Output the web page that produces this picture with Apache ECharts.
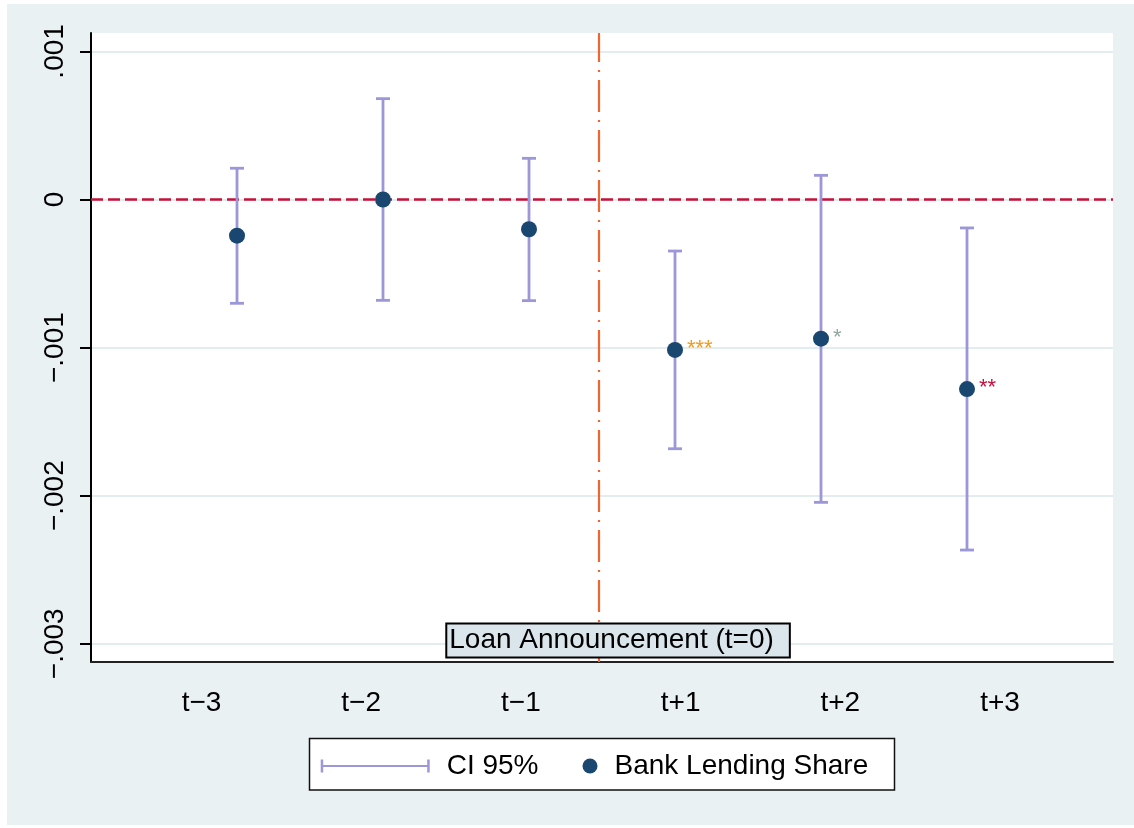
<!DOCTYPE html>
<html>
<head>
<meta charset="utf-8">
<style>
  html, body { margin: 0; padding: 0; background: #ffffff; }
  #chart { width: 1134px; height: 828px; }
</style>
<script src="https://cdn.jsdelivr.net/npm/echarts@6/dist/echarts.min.js"></script>
</head>
<body>
<div id="chart"></div>
<script>
// ---- data ----
const categories = ['t\u22123', 't\u22122', 't\u22121', 't+1', 't+2', 't+3'];
const positions = [1, 2, 3, 4, 5, 6];
const coef   = [-0.000244, 0.000000, -0.000201, -0.001016, -0.000940, -0.001280];
const ciLow  = [-0.000701, -0.000681, -0.000683, -0.001683, -0.002045, -0.002367];
const ciHigh = [ 0.000211,  0.000681,  0.000278, -0.000348,  0.000163, -0.000192];
const stars  = ['', '', '', '***', '*', '**'];
const eventPos = 3.48;
const eventLabel = 'Loan Announcement (t=0)';
const yTicks = [-0.003, -0.002, -0.001, 0, 0.001];
const yTickLabels = ['\u2212.003', '\u2212.002', '\u2212.001', '0', '.001'];
const legendNames = ['CI 95%', 'Bank Lending Share'];

// ---- styles ----
const FONT = '"Liberation Sans", Arial, Helvetica, sans-serif';
const ciColor = '#9b97d9';
const dotColor = '#1a476f';
const starColors = { '***': '#f29b20', '**': '#c8103a', '*': '#8fa89a' };
const yMin = -0.003123, yMax = 0.0011242;

const chart = echarts.init(document.getElementById('chart'), null, { renderer: 'canvas' });

const ciData = positions.map((p, i) => [p, ciLow[i], ciHigh[i]]);
const pointData = positions.map((p, i) => ({
  value: [p, coef[i]],
  label: { color: starColors[stars[i]] || '#000' }
}));

const option = {
  backgroundColor: '#ffffff',
  animation: false,
  textStyle: { fontFamily: FONT },
  graphic: [
    { type: 'rect', z: -100, shape: { x: 7, y: 4, width: 1127, height: 821 },
      style: { fill: '#eaf1f3' } },
    { type: 'rect', z: 1, shape: { x: 309.5, y: 738.5, width: 585, height: 51.5 },
      style: { fill: '#ffffff', stroke: '#111111', lineWidth: 1.5 } }
  ],
  grid: { left: 91, right: 21, top: 33, bottom: 166, show: true,
          backgroundColor: '#ffffff', borderWidth: 0, containLabel: false },
  xAxis: [
    { type: 'value', min: 0, max: 7, position: 'bottom',
      axisLine: { show: true, onZero: false, lineStyle: { color: '#222', width: 2 } },
      axisTick: { show: false }, axisLabel: { show: false }, splitLine: { show: false } },
    { type: 'value', min: 0.3081, max: 6.7076, position: 'bottom',
      axisLine: { show: false }, axisTick: { show: false }, splitLine: { show: false },
      axisLabel: { show: true, customValues: positions, margin: 27,
        fontSize: 28, color: '#000', fontFamily: FONT,
        formatter: v => categories[positions.indexOf(Math.round(v))] || '' } }
  ],
  yAxis: {
    type: 'value', min: yMin, max: yMax,
    axisLine: { show: true, lineStyle: { color: '#000', width: 2 } },
    axisTick: { show: true, customValues: yTicks, length: 11, lineStyle: { color: '#000', width: 2 } },
    axisLabel: { show: true, customValues: yTicks, rotate: 90, margin: 22,
      fontSize: 28, color: '#000', fontFamily: FONT,
      formatter: v => { const i = yTicks.findIndex(t => Math.abs(t - v) < 1e-9); return i >= 0 ? yTickLabels[i] : ''; } },
    splitLine: { show: true, lineStyle: { color: '#e3ecef', width: 2 } }
  },
  legend: [
    { left: 320.7, top: 752, padding: 0, itemWidth: 109, itemHeight: 13, selectedMode: false,
      data: [{ name: legendNames[0], icon: 'path://M0,0H2.5V13H0Z M2,5.5H107V7.5H2Z M106.5,0H109V13H106.5Z',
               itemStyle: { color: ciColor } }],
      textStyle: { fontSize: 28, color: '#000', fontFamily: FONT, padding: [0, 0, 0, 12] } },
    { left: 582.5, top: 752, padding: 0, itemWidth: 15, itemHeight: 15, selectedMode: false,
      data: [{ name: legendNames[1], icon: 'circle', itemStyle: { color: dotColor } }],
      textStyle: { fontSize: 28, color: '#000', fontFamily: FONT, padding: [0, 0, 0, 12] } }
  ],
  series: [
    { name: legendNames[0], type: 'custom', xAxisIndex: 0,
      itemStyle: { color: ciColor },
      data: ciData, z: 3,
      renderItem: (params, api) => {
        const x = api.value(0);
        const top = api.coord([x, api.value(2)]);
        const bot = api.coord([x, api.value(1)]);
        const w = 7;
        const st = { stroke: ciColor, lineWidth: 2.8 };
        return { type: 'group', children: [
          { type: 'line', shape: { x1: top[0], y1: top[1], x2: bot[0], y2: bot[1] }, style: st },
          { type: 'line', shape: { x1: top[0] - w, y1: top[1], x2: top[0] + w, y2: top[1] }, style: st },
          { type: 'line', shape: { x1: bot[0] - w, y1: bot[1], x2: bot[0] + w, y2: bot[1] }, style: st }
        ] };
      },
      markLine: {
        silent: true, symbol: 'none', z: 2,
        label: { show: false },
        data: [
          { yAxis: 0, lineStyle: { color: '#c8103a', width: 2.6, type: [12, 5] } },
          { xAxis: eventPos, lineStyle: { color: '#f26430', width: 2.2, type: [32, 8, 2, 8] } }
        ]
      },
      markPoint: {
        silent: true, symbol: 'rect', symbolSize: 1, itemStyle: { color: 'rgba(0,0,0,0)' },
        data: [{ coord: [eventPos + 0.13, yMin], value: eventLabel,
          label: { show: true, position: 'top', distance: 5, formatter: eventLabel,
            fontSize: 28, color: '#000', fontFamily: FONT, lineHeight: 30,
            backgroundColor: '#dae6ec', borderColor: '#000', borderWidth: 2,
            padding: [1, 15, 1, 2] } }]
      }
    },
    { name: legendNames[1], type: 'scatter', xAxisIndex: 0, z: 4,
      symbol: 'circle', symbolSize: 16,
      itemStyle: { color: dotColor, opacity: 1 },
      label: { show: true, position: 'right', distance: 4, offset: [0, -1],
        fontSize: 22, fontFamily: FONT,
        formatter: p => stars[p.dataIndex] },
      data: pointData }
  ]
};
chart.setOption(option);
</script>
</body>
</html>
